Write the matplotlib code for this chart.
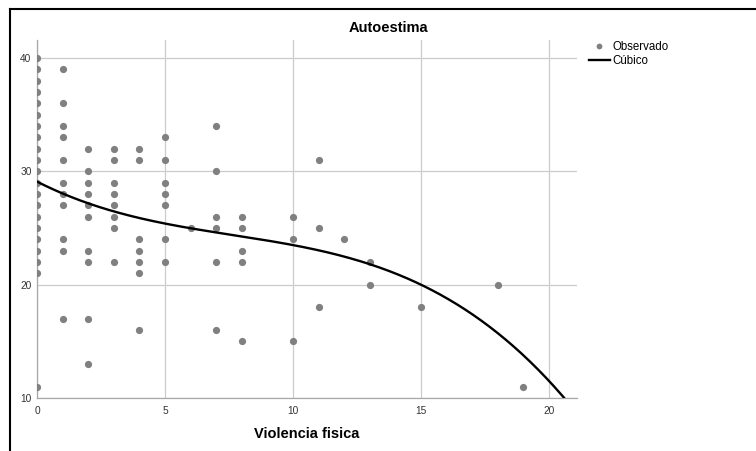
import matplotlib
matplotlib.use("Agg")
import matplotlib.pyplot as plt
from matplotlib.lines import Line2D
import numpy as np

plt.rcParams["font.family"] = ["Liberation Sans", "DejaVu Sans"]

# Observed points, grouped by x value (Violencia fisica)
X0_Y = [40, 39, 38, 37, 36, 35, 34, 33, 32, 31, 30, 29, 28, 27, 26, 25, 24, 23, 22, 21, 11]
X1_Y = [39, 36, 34, 33, 31, 29, 28, 27, 24, 23, 17]
X2_Y = [32, 30, 29, 28, 27, 26, 23, 22, 17, 13]
X3_Y = [32, 31, 29, 28, 27, 26, 25, 22]
X4_Y = [32, 31, 24, 23, 22, 21, 16]
X5_Y = [33, 31, 29, 28, 27, 24, 22]
X6_Y = [25]
X7_Y = [34, 30, 26, 25, 22, 16]
X8_Y = [26, 25, 23, 22, 15]
X10_Y = [26, 24, 15]
X11_Y = [31, 25, 18]
X12_Y = [24]
X13_Y = [22, 20]
X15_Y = [18]
X18_Y = [20]
X19_Y = [11]

COLUMNS = [
    (0, X0_Y), (1, X1_Y), (2, X2_Y), (3, X3_Y), (4, X4_Y), (5, X5_Y),
    (6, X6_Y), (7, X7_Y), (8, X8_Y), (10, X10_Y), (11, X11_Y), (12, X12_Y),
    (13, X13_Y), (15, X15_Y), (18, X18_Y), (19, X19_Y),
]

# cubic model b0 + b1*x + b2*x^2 + b3*x^3
CUBIC_COEFS = [29.1, -1.147, 0.104, -0.00453]

X_TICKS = [0, 5, 10, 15, 20]
Y_TICKS = [10, 20, 30, 40]

W, H = 756, 451


def main():
    obs_x = []
    obs_y = []
    for xv, ys in COLUMNS:
        obs_x += [xv] * len(ys)
        obs_y += ys

    fig = plt.figure(figsize=(W / 100, H / 100), dpi=100)
    ax = fig.add_axes([37 / W, 1 - 398 / H, 540 / W, 358 / H])

    ax.plot(obs_x, obs_y, linestyle="none", marker="o", markersize=5.2,
            color="#808080", markeredgewidth=0, label="Observado", zorder=3)

    xs = np.linspace(0, 21.1, 400)
    b0, b1, b2, b3 = CUBIC_COEFS
    ys = b0 + b1 * xs + b2 * xs ** 2 + b3 * xs ** 3
    ax.plot(xs, ys, color="black", linewidth=1.7, label="Cúbico", zorder=4)

    ax.set_xlim(0, 21.1)
    ax.set_ylim(10, 41.6)
    ax.set_xticks(X_TICKS)
    ax.set_yticks(Y_TICKS)
    ax.grid(True, color="#cccccc", linewidth=0.9)
    ax.set_axisbelow(True)
    for side in ["top", "right"]:
        ax.spines[side].set_visible(False)
    for side in ["left", "bottom"]:
        ax.spines[side].set_color("#a8a8a8")
        ax.spines[side].set_linewidth(0.9)
    ax.tick_params(length=0, labelsize=7.3, colors="#333333")
    ax.tick_params(axis="x", pad=6)
    ax.tick_params(axis="y", pad=4)

    ax.set_xlabel("Violencia fisica", fontsize=10.5, fontweight="bold")
    ax.xaxis.set_label_coords(0.5, (398 - 434) / 358)
    ax.xaxis.label.set_va("center")

    fig.text(388 / W, 1 - 28 / H, "Autoestima", fontsize=10.5, fontweight="bold",
             ha="center", va="center")

    ax.legend(loc="upper left", bbox_to_anchor=(589 / W, 1 - 41 / H),
              bbox_transform=fig.transFigure, frameon=False, fontsize=8.3,
              borderpad=0, borderaxespad=0, handlelength=1.8, handletextpad=0.2,
              labelspacing=0.2, markerscale=0.8)

    # screenshot frame, top and left edges
    fig.add_artist(Line2D([10 / W, 1], [1 - 9 / H, 1 - 9 / H], color="black",
                          linewidth=1.5, transform=fig.transFigure))
    fig.add_artist(Line2D([10 / W, 10 / W], [0, 1 - 9 / H], color="black",
                          linewidth=1.5, transform=fig.transFigure))

    fig.savefig("out.png", dpi=100)
    plt.close(fig)


if __name__ == "__main__":
    main()
